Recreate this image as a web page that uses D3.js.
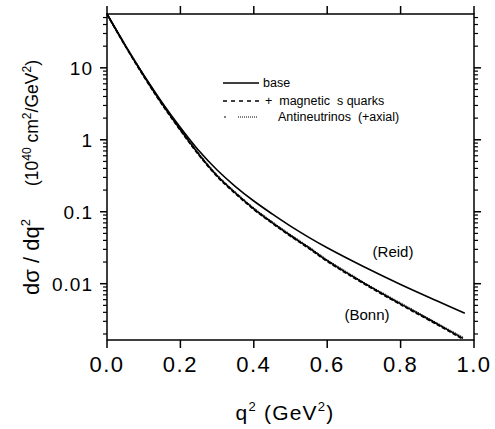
<!DOCTYPE html>
<meta charset="utf-8">
<script src="https://cdnjs.cloudflare.com/ajax/libs/d3/7.8.5/d3.min.js"></script>
<style>
  body {
    margin: 0;
    background: white;
    font-family: "Liberation Sans", Arial, sans-serif;
  }
</style>
<body>
<div id="chart"></div>
<script>
// values (q^2 in GeV^2, dsigma/dq^2 in 10^-40 cm^2/GeV^2)
var qReid = [0, 0.05, 0.1, 0.15, 0.2, 0.25, 0.3, 0.35, 0.4, 0.45, 0.5, 0.55, 0.6, 0.7, 0.8, 0.9, 0.975];
var reidBase = [56, 20.4, 7.94, 3.31, 1.48, 0.708, 0.380, 0.224, 0.141, 0.0933, 0.0631, 0.0441, 0.0316, 0.0172, 0.00977, 0.00575, 0.00389];

var qBonn = [0, 0.05, 0.1, 0.15, 0.2, 0.25, 0.3, 0.35, 0.4, 0.45, 0.5, 0.55, 0.6, 0.7, 0.8, 0.9, 0.97];
var bonnBase = [56, 20.4, 7.76, 3.16, 1.38, 0.631, 0.316, 0.182, 0.110, 0.0708, 0.0468, 0.0316, 0.0209, 0.0102, 0.00525, 0.00275, 0.00174];
var bonnMagnetic = [55, 19.8, 7.55, 3.07, 1.34, 0.612, 0.307, 0.177, 0.107, 0.0688, 0.0455, 0.0307, 0.0203, 0.0099, 0.00510, 0.00267, 0.00169];
var bonnAxial = [57, 21.0, 7.98, 3.25, 1.42, 0.650, 0.325, 0.187, 0.113, 0.0728, 0.0481, 0.0325, 0.0215, 0.0105, 0.00540, 0.00283, 0.00179];

var xTicks = [0, 0.2, 0.4, 0.6, 0.8, 1.0];
var yTicks = [0.01, 0.1, 1, 10];
var yTickLabels = ["0.01", "0.1", "1", "10"];
var legendLabels = ["base", "+  magnetic  s quarks", "Antineutrinos  (+axial)"];

var W = 495, H = 429;
var pLeft = 107, pRight = 474, pTop = 14, pBottom = 340;

var svg = d3.select("#chart").append("svg")
  .attr("width", W)
  .attr("height", H);

var x = d3.scaleLinear().domain([0, 1]).range([pLeft, pRight]);
var y = d3.scaleLog().domain([0.00165, 56]).range([pBottom, pTop]);

// minor ticks for log axis
var minor = [];
[0.001, 0.01, 0.1, 1, 10].forEach(function(d) {
  for (var k = 2; k <= 9; k++) {
    var v = d * k;
    if (v >= y.domain()[0] && v <= y.domain()[1]) minor.push(v);
  }
});

var axes = svg.append("g").attr("stroke", "black").attr("stroke-width", 1.5);

// frame
axes.append("rect")
  .attr("x", pLeft).attr("y", pTop)
  .attr("width", pRight - pLeft).attr("height", pBottom - pTop)
  .attr("fill", "none");

// x ticks bottom and top (outward)
xTicks.forEach(function(d) {
  axes.append("line").attr("x1", x(d)).attr("x2", x(d)).attr("y1", pBottom).attr("y2", pBottom + 8);
  axes.append("line").attr("x1", x(d)).attr("x2", x(d)).attr("y1", pTop).attr("y2", pTop - 8);
});

// y ticks left and right
yTicks.forEach(function(d) {
  axes.append("line").attr("x1", pLeft).attr("x2", pLeft - 7).attr("y1", y(d)).attr("y2", y(d));
  axes.append("line").attr("x1", pRight).attr("x2", pRight + 7).attr("y1", y(d)).attr("y2", y(d));
});
minor.forEach(function(d) {
  axes.append("line").attr("x1", pLeft).attr("x2", pLeft - 4).attr("y1", y(d)).attr("y2", y(d)).attr("stroke-width", 1.2);
  axes.append("line").attr("x1", pRight).attr("x2", pRight + 4).attr("y1", y(d)).attr("y2", y(d)).attr("stroke-width", 1.2);
});

// tick labels
svg.selectAll(".xlab").data(xTicks).enter().append("text")
  .attr("x", function(d) { return x(d); })
  .attr("y", 372)
  .attr("text-anchor", "middle")
  .style("font-size", "22px")
  .style("letter-spacing", "1.5px")
  .text(function(d) { return d.toFixed(1); });

svg.selectAll(".ylab").data(yTicks).enter().append("text")
  .attr("x", 93)
  .attr("y", function(d) { return y(d) + 7; })
  .attr("text-anchor", "end")
  .style("font-size", "19px")
  .style("letter-spacing", "1px")
  .text(function(d, i) { return yTickLabels[i]; });

// axis titles
var xt = svg.append("text")
  .attr("x", 285).attr("y", 420)
  .attr("text-anchor", "middle")
  .style("font-size", "21px")
  .style("letter-spacing", "1.2px");
xt.append("tspan").text("q");
xt.append("tspan").attr("dy", -9).style("font-size", "13px").text("2");
xt.append("tspan").attr("dy", 9).text(" (GeV");
xt.append("tspan").attr("dy", -9).style("font-size", "13px").text("2");
xt.append("tspan").attr("dy", 9).text(")");

var yt = svg.append("text")
  .attr("transform", "translate(39,257) rotate(-90)")
  .attr("text-anchor", "middle")
  .style("font-size", "22px");
yt.append("tspan").text("d\u03c3 / dq");
yt.append("tspan").attr("dy", -9).style("font-size", "13px").text("2");

var yu = svg.append("text")
  .attr("transform", "translate(38,123) rotate(-90)")
  .attr("text-anchor", "middle")
  .style("font-size", "17.5px");
yu.append("tspan").text("(10");
yu.append("tspan").attr("dy", -7).style("font-size", "12px").text("40");
yu.append("tspan").attr("dy", 7).text(" cm");
yu.append("tspan").attr("dy", -7).style("font-size", "12px").text("2");
yu.append("tspan").attr("dy", 7).text("/GeV");
yu.append("tspan").attr("dy", -7).style("font-size", "12px").text("2");
yu.append("tspan").attr("dy", 7).text(")");

// curves
var line = d3.line()
  .x(function(d) { return x(d[0]); })
  .y(function(d) { return y(d[1]); })
  .curve(d3.curveCatmullRom.alpha(0.5));

function pairs(qs, vs) { return qs.map(function(q, i) { return [q, vs[i]]; }); }

var plot = svg.append("g").attr("fill", "none").attr("stroke", "black");

plot.append("path").attr("d", line(pairs(qReid, reidBase))).attr("stroke-width", 1.6);
plot.append("path").attr("d", line(pairs(qBonn, bonnBase))).attr("stroke-width", 1.6);
plot.append("path").attr("d", line(pairs(qBonn, bonnMagnetic))).attr("stroke-width", 1.4).attr("stroke-dasharray", "4,2");
plot.append("path").attr("d", line(pairs(qBonn, bonnAxial))).attr("stroke-width", 1.2).attr("stroke-dasharray", "1,1");

// curve labels
svg.append("text").attr("x", 393).attr("y", 257).attr("text-anchor", "middle")
  .style("font-size", "15px").text("(Reid)");
svg.append("text").attr("x", 367).attr("y", 320).attr("text-anchor", "middle")
  .style("font-size", "15px").text("(Bonn)");

// legend
var legY = [83, 101, 117];
var lg = svg.append("g");
lg.append("line").attr("x1", 223).attr("x2", 259).attr("y1", legY[0]).attr("y2", legY[0])
  .attr("stroke", "black").attr("stroke-width", 1.5);
lg.append("line").attr("x1", 223).attr("x2", 259).attr("y1", legY[1]).attr("y2", legY[1])
  .attr("stroke", "black").attr("stroke-width", 1.3).attr("stroke-dasharray", "4,4");
lg.append("line").attr("x1", 224).attr("x2", 226).attr("y1", legY[2]).attr("y2", legY[2])
  .attr("stroke", "black").attr("stroke-width", 1);
lg.append("line").attr("x1", 238).attr("x2", 257).attr("y1", legY[2]).attr("y2", legY[2])
  .attr("stroke", "black").attr("stroke-width", 1).attr("stroke-dasharray", "1,1");

var legX = [263, 265, 278];
legendLabels.forEach(function(t, i) {
  lg.append("text")
    .attr("x", legX[i]).attr("y", legY[i] + 4)
    .style("font-size", "12.5px")
    .style("white-space", "pre")
    .attr("xml:space", "preserve")
    .text(t);
});
</script>
</body>
